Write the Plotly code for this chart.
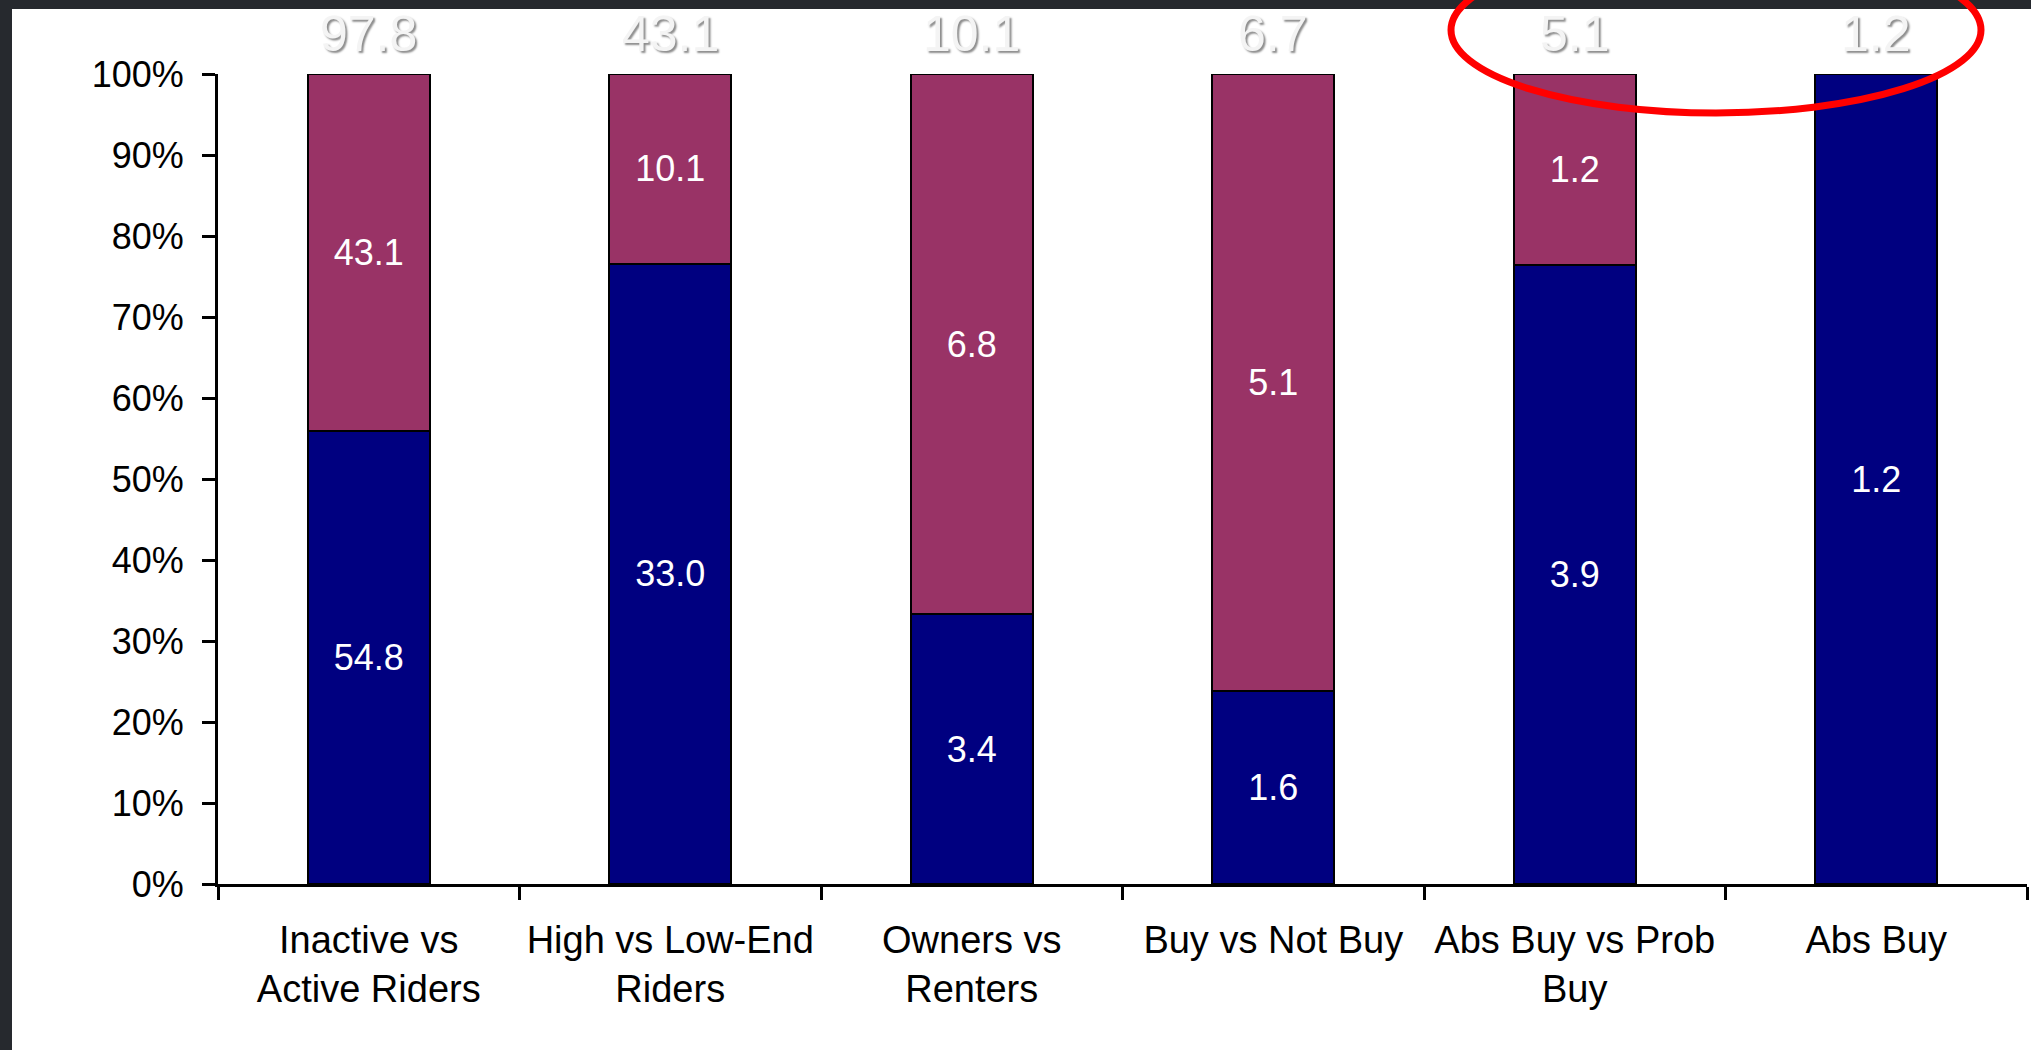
import plotly.graph_objects as go

categories = ["Inactive vs<br>Active Riders", "High vs Low-End<br>Riders", "Owners vs<br>Renters",
              "Buy vs Not Buy", "Abs Buy vs Prob<br>Buy", "Abs Buy"]
navy_values = [54.8, 33.0, 3.4, 1.6, 3.9, 1.2]
maroon_values = [43.1, 10.1, 6.8, 5.1, 1.2, None]
totals = [97.8, 43.1, 10.1, 6.7, 5.1, 1.2]
y_ticks = [0, 10, 20, 30, 40, 50, 60, 70, 80, 90, 100]
y_tick_labels = ["0%", "10%", "20%", "30%", "40%", "50%", "60%", "70%", "80%", "90%", "100%"]

FONT = "Liberation Sans, Arial, sans-serif"
W, H = 2031, 1050
L, R, T, B = 218, 4, 74, 166
pw, ph = W - L - R, H - T - B
DARK = "#26292e"


def px_x(p):
    return (p - L) / pw


def px_y(p):
    return (H - B - p) / ph


def fmt(v):
    return "" if v is None else f"{v:.1f}"


fig = go.Figure()
fig.add_trace(go.Bar(
    x=categories, y=navy_values, name="navy",
    marker=dict(color="#000080", line=dict(color="#000000", width=2)),
    text=[fmt(v) for v in navy_values], texttemplate="%{text}",
    textposition="inside", insidetextanchor="middle",
    textfont=dict(color="white", size=36, family=FONT),
    constraintext="none", hoverinfo="skip",
))
fig.add_trace(go.Bar(
    x=categories, y=maroon_values, name="maroon",
    marker=dict(color="#993366", line=dict(color="#000000", width=2)),
    text=[fmt(v) for v in maroon_values], texttemplate="%{text}",
    textposition="inside", insidetextanchor="middle",
    textfont=dict(color="white", size=36, family=FONT),
    constraintext="none", hoverinfo="skip",
))

for c, t in zip(categories, totals):
    fig.add_annotation(
        x=c, y=100, xref="x", yref="y", text=fmt(t), showarrow=False,
        yanchor="middle", yshift=40,
        font=dict(size=50, color="#f4f4f4", family=FONT, shadow="2px 2px 2px #8c8c8c"),
    )

shapes = [
    dict(type="rect", xref="paper", yref="paper", layer="above",
         x0=px_x(-20), x1=px_x(W + 20), y0=px_y(9), y1=px_y(-20),
         fillcolor=DARK, line=dict(width=0)),
    dict(type="rect", xref="paper", yref="paper", layer="above",
         x0=px_x(-20), x1=px_x(12), y0=px_y(H + 20), y1=px_y(-20),
         fillcolor=DARK, line=dict(width=0)),
    dict(type="circle", xref="paper", yref="paper", layer="above",
         x0=px_x(1451), x1=px_x(1981), y0=px_y(113), y1=px_y(-53),
         line=dict(color="#ff0000", width=7), fillcolor="rgba(0,0,0,0)"),
]

fig.update_layout(
    width=W, height=H,
    margin=dict(l=L, r=R, t=T, b=B, pad=0),
    paper_bgcolor="white", plot_bgcolor="white",
    barmode="stack", barnorm="percent", bargap=0.595,
    showlegend=False,
    font=dict(family=FONT, size=36, color="black"),
    shapes=shapes,
    xaxis=dict(
        type="category", showgrid=False, zeroline=False,
        showline=True, linecolor="black", linewidth=3,
        ticks="outside", tickson="boundaries", ticklen=13, tickwidth=2.5, tickcolor="black",
        tickfont=dict(size=38, color="black", family=FONT),
        ticklabelstandoff=20,
    ),
    yaxis=dict(
        range=[0, 100], tickmode="array", tickvals=y_ticks, ticktext=y_tick_labels,
        showgrid=False, zeroline=False,
        showline=True, linecolor="black", linewidth=3,
        ticks="outside", ticklen=13, tickwidth=2.5, tickcolor="black",
        tickfont=dict(size=36, color="black", family=FONT),
        ticklabelstandoff=11,
    ),
)

fig.write_html("out.html")
